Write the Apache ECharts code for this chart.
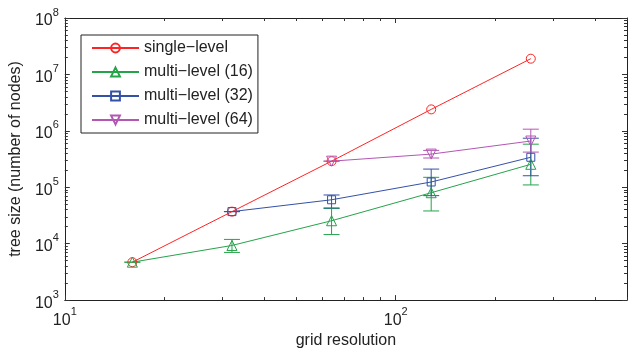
<!DOCTYPE html>
<html>
<head>
<meta charset="utf-8">
<script src="https://cdn.jsdelivr.net/npm/echarts@6/dist/echarts.min.js"></script>
<style>
  html, body { margin: 0; padding: 0; background: #fff; }
  #chart { width: 628px; height: 354px; }
</style>
</head>
<body>
<div id="chart"></div>
<script>
// grid resolution (x) and tree sizes
const gridRes = [16, 32, 64, 128, 256];
const singleLevel = [4700, 37000, 290000, 2400000, 19000000];

const multi16 = [4700, 9300, 25500, 80000, 255000];
const multi16Low = [4700, 7000, 14500, 38000, 110000];
const multi16High = [4700, 11900, 42000, 150000, 580000];

const multi32 = [null, 37000, 60000, 124000, 340000];
const multi32Low = [null, 37000, 43000, 71000, 160000];
const multi32High = [null, 37000, 73000, 210000, 740000];

const multi64 = [null, null, 290000, 387000, 660000];
const multi64Low = [null, null, 290000, 330000, 420000];
const multi64High = [null, null, 290000, 450000, 1070000];

const xMajorTicks = [10, 100];
const xMinorTicks = [20, 30, 40, 50, 60, 70, 80, 90, 200, 300, 400, 500];
const yMajorTicks = [1e3, 1e4, 1e5, 1e6, 1e7, 1e8];
const yMinorTicks = [];
for (let e = 3; e < 8; e++) {
  for (let m = 2; m <= 9; m++) yMinorTicks.push(m * Math.pow(10, e));
}

const RED = '#ff2424';
const GREEN = '#25a34b';
const BLUE = '#3451a8';
const MAGENTA = '#b456b4';
const FONT = "'Liberation Sans', Arial, sans-serif";

function pairs(values) {
  const out = [];
  values.forEach((v, i) => { if (v != null) out.push([gridRes[i], v]); });
  return out;
}
function bars(low, high) {
  const out = [];
  low.forEach((v, i) => { if (v != null) out.push([gridRes[i], v, high[i]]); });
  return out;
}

function powLabel(v) {
  return '{b|10}{s|' + Math.round(Math.log10(v)) + '}';
}
const powRich = {
  b: { fontSize: 16, fontFamily: FONT, color: '#222', padding: [6, 0, 0, 0], verticalAlign: 'bottom' },
  s: { fontSize: 11, fontFamily: FONT, color: '#222', verticalAlign: 'top' },
};

function lineSeries(name, values, color, symbol, size, rotate) {
  return {
    name,
    type: 'line',
    data: pairs(values),
    symbol,
    symbolSize: size,
    symbolRotate: rotate || 0,
    showAllSymbol: true,
    lineStyle: { color, width: 1 },
    itemStyle: { color: 'rgba(255,255,255,0)', borderColor: color, borderWidth: 1 },
    emphasis: { disabled: true },
    z: 3,
  };
}

function errorSeries(name, low, high, color) {
  return {
    name,
    type: 'custom',
    data: bars(low, high),
    encode: { x: 0, y: [1, 2] },
    z: 3,
    silent: true,
    renderItem(params, api) {
      const x = api.value(0);
      const lo = api.coord([x, api.value(1)]);
      const hi = api.coord([x, api.value(2)]);
      const half = 8;
      const style = { stroke: color, lineWidth: 1 };
      return {
        type: 'group',
        children: [
          { type: 'line', shape: { x1: lo[0], y1: lo[1], x2: hi[0], y2: hi[1] }, style },
          { type: 'line', shape: { x1: lo[0] - half, y1: lo[1], x2: lo[0] + half, y2: lo[1] }, style },
          { type: 'line', shape: { x1: hi[0] - half, y1: hi[1], x2: hi[0] + half, y2: hi[1] }, style },
        ],
      };
    },
  };
}

function xAxisDef(position, tickValues, len, withLabels) {
  return {
    type: 'log',
    logBase: 10,
    min: 10,
    max: 500,
    position,
    gridIndex: 0,
    axisLine: { show: withLabels !== null, lineStyle: { color: '#222', width: 1 } },
    axisTick: { inside: true, length: len, customValues: tickValues, lineStyle: { color: '#333' } },
    axisLabel: withLabels ? {
      customValues: xMajorTicks, formatter: powLabel, rich: powRich, margin: 6,
    } : { show: false },
    splitLine: { show: false },
    minorTick: { show: false },
  };
}
function yAxisDef(position, tickValues, len, withLabels) {
  return {
    type: 'log',
    logBase: 10,
    min: 1e3,
    max: 1e8,
    position,
    gridIndex: 0,
    axisLine: { show: withLabels !== null, lineStyle: { color: '#222', width: 1 } },
    axisTick: { inside: true, length: len, customValues: tickValues, lineStyle: { color: '#333' } },
    axisLabel: withLabels ? {
      customValues: yMajorTicks, formatter: powLabel, rich: powRich, margin: 6,
    } : { show: false },
    splitLine: { show: false },
    minorTick: { show: false },
  };
}

const chart = echarts.init(document.getElementById('chart'), null, { renderer: 'canvas' });

const xMain = xAxisDef('bottom', xMajorTicks, 5, true);
xMain.name = 'grid resolution';
xMain.nameLocation = 'middle';
xMain.nameGap = 30;
xMain.nameTextStyle = { fontSize: 16, fontFamily: FONT, color: '#222' };

const yMain = yAxisDef('left', yMajorTicks, 5, true);
yMain.name = 'tree size (number of nodes)';
yMain.nameLocation = 'middle';
yMain.nameGap = 38;
yMain.nameTextStyle = { fontSize: 16, fontFamily: FONT, color: '#222' };

chart.setOption({
  animation: false,
  backgroundColor: '#fff',
  grid: { left: 63, right: 1, top: 18, bottom: 52, containLabel: false },
  xAxis: [
    xMain,
    xAxisDef('top', xMajorTicks, 5, false),
    xAxisDef('bottom', xMinorTicks, 3, null),
    xAxisDef('top', xMinorTicks, 3, null),
  ],
  yAxis: [
    yMain,
    yAxisDef('right', yMajorTicks, 5, false),
    yAxisDef('left', yMinorTicks, 3, null),
    yAxisDef('right', yMinorTicks, 3, null),
  ],
  legend: {
    orient: 'vertical',
    left: 81,
    top: 35,
    data: ['single−level', 'multi−level (16)', 'multi−level (32)', 'multi−level (64)'],
    backgroundColor: '#fff',
    borderColor: '#222',
    borderWidth: 1,
    padding: [5, 5, 5, 10],
    itemWidth: 47,
    itemHeight: 11,
    itemGap: 8,
    textStyle: { fontSize: 16, fontFamily: FONT, color: '#222', lineHeight: 14 },
    selectedMode: false,
  },
  series: [
    lineSeries('single−level', singleLevel, RED, 'circle', 9),
    errorSeries('err16', multi16Low, multi16High, GREEN),
    lineSeries('multi−level (16)', multi16, GREEN, 'triangle', 10),
    errorSeries('err32', multi32Low, multi32High, BLUE),
    lineSeries('multi−level (32)', multi32, BLUE, 'rect', 8),
    errorSeries('err64', multi64Low, multi64High, MAGENTA),
    lineSeries('multi−level (64)', multi64, MAGENTA, 'triangle', 10, 180),
  ],
});
</script>
</body>
</html>
